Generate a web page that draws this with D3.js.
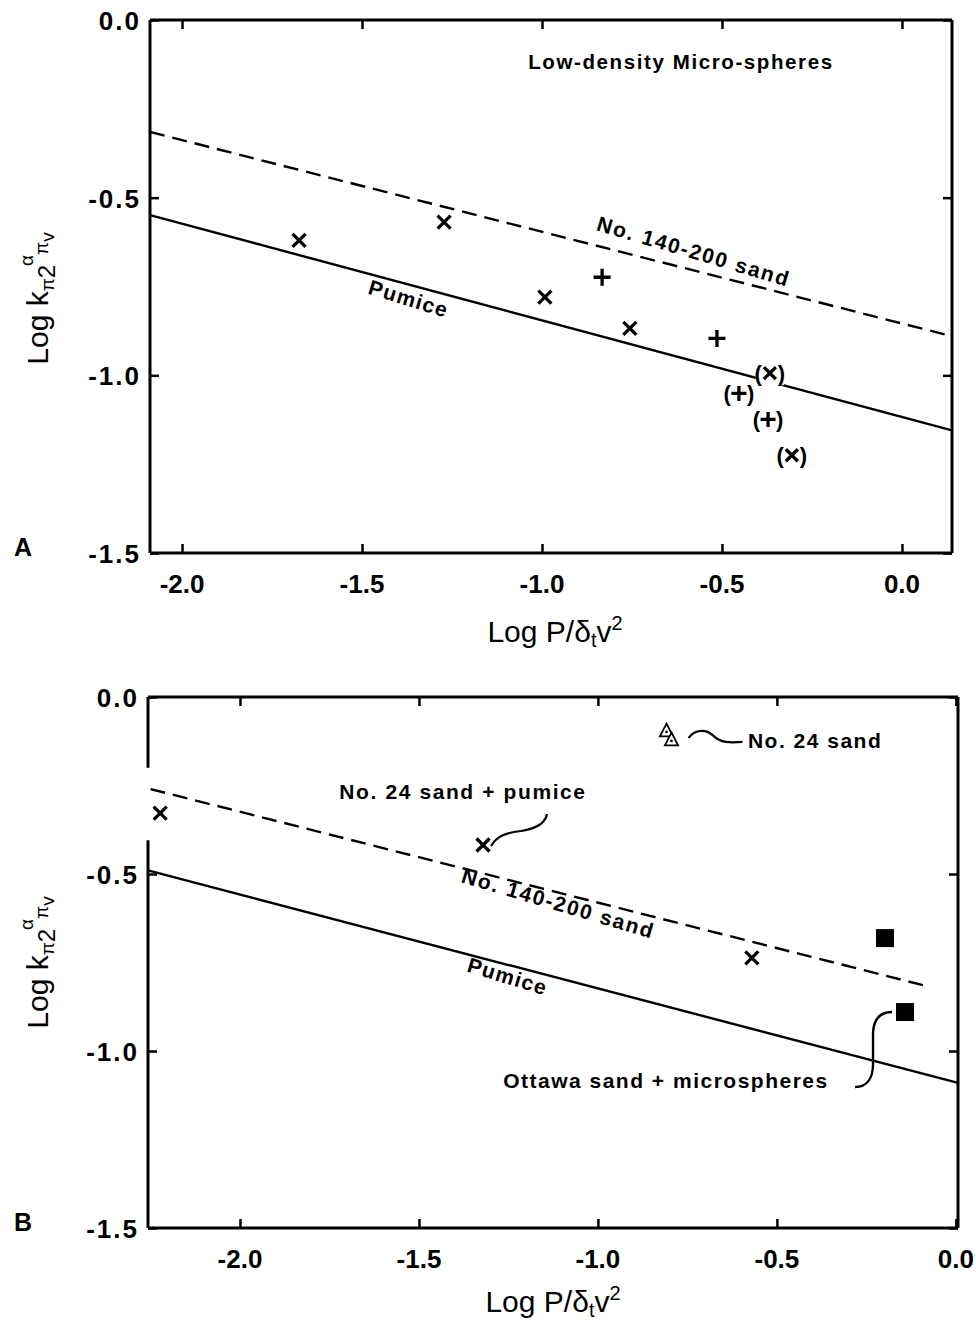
<!DOCTYPE html>
<html><head><meta charset="utf-8">
<script src="https://cdn.jsdelivr.net/npm/d3@7"></script>
<style>
body{margin:0;background:#fff;}
svg{display:block;font-family:"Liberation Sans",Arial,Helvetica,sans-serif;}
</style></head>
<body><svg id="c" width="976" height="1326"></svg>
<script>
// ---------- DATA ----------
const xTicksA = [-2.0, -1.5, -1.0, -0.5, 0.0];
const xTicksB = [-2.0, -1.5, -1.0, -0.5, 0.0];
const yTicks = [0.0, -0.5, -1.0, -1.5];
const xTickLabels = ["-2.0", "-1.5", "-1.0", "-0.5", "0.0"];
const yTickLabels = ["0.0", "-0.5", "-1.0", "-1.5"];

// Panel A points
const crossA_x = [-1.675, -1.272, -0.992, -0.756];
const crossA_y = [-0.620, -0.569, -0.780, -0.868];
const plusA_x = [-0.833, -0.514];
const plusA_y = [-0.724, -0.896];
const parenCrossA_x = [-0.367, -0.306];
const parenCrossA_y = [-0.994, -1.225];
const parenPlusA_x = [-0.453, -0.372];
const parenPlusA_y = [-1.051, -1.124];
// Panel A lines
const dashedA_x = [-2.089, 0.139];
const dashedA_y = [-0.315, -0.890];
const solidA_x = [-2.089, 0.139];
const solidA_y = [-0.549, -1.155];

// Panel B points
const crossB_x = [-2.223, -1.321, -0.570];
const crossB_y = [-0.328, -0.418, -0.737];
const squareB_x = [-0.198, -0.142];
const squareB_y = [-0.681, -0.890];
const triangleB_x = [-0.800];
const triangleB_y = [-0.107];
// Panel B lines
const dashedB_x = [-2.25, -0.092];
const dashedB_y = [-0.260, -0.814];
const solidB_x = [-2.257, 0.006];
const solidB_y = [-0.490, -1.090];
const leftAxisGapB = [-0.20, -0.405];

// ---------- DRAW ----------
const svg = d3.select("#c");

function panel(cfg){
  const x = d3.scaleLinear().domain(cfg.xd).range(cfg.xr);
  const y = d3.scaleLinear().domain([0,-1.5]).range(cfg.yr);
  const g = svg.append("g");
  const [L,R] = cfg.xr, [T,B] = cfg.yr;
  const ax = (gen, tr) => g.append("g").attr("transform", tr).call(gen)
     .call(s => { s.select(".domain").remove(); s.selectAll("text").remove();
                  s.selectAll("line").attr("stroke","#000").attr("stroke-width",2.5); });
  ax(d3.axisBottom(x).tickValues(cfg.xt).tickSizeInner(-9).tickSizeOuter(0), `translate(0,${B})`);
  ax(d3.axisTop(x).tickValues(cfg.xt).tickSizeInner(-9).tickSizeOuter(0), `translate(0,${T})`);
  ax(d3.axisLeft(y).tickValues(yTicks).tickSizeInner(-9).tickSizeOuter(0), `translate(${L},0)`);
  ax(d3.axisRight(y).tickValues(yTicks).tickSizeInner(-9).tickSizeOuter(0), `translate(${R},0)`);
  const fr = g.append("g").attr("stroke","#000").attr("stroke-width",3).attr("fill","none");
  fr.append("line").attr("x1",L).attr("x2",R).attr("y1",T).attr("y2",T);
  fr.append("line").attr("x1",L).attr("x2",R).attr("y1",B).attr("y2",B);
  fr.append("line").attr("x1",R).attr("x2",R).attr("y1",T).attr("y2",B);
  if (cfg.gap){
    fr.append("line").attr("x1",L).attr("x2",L).attr("y1",T).attr("y2",y(cfg.gap[0]));
    fr.append("line").attr("x1",L).attr("x2",L).attr("y1",y(cfg.gap[1])).attr("y2",B);
  } else {
    fr.append("line").attr("x1",L).attr("x2",L).attr("y1",T).attr("y2",B);
  }
  g.selectAll(".xl").data(cfg.xt).enter().append("text")
    .attr("x", d=>x(d)).attr("y", B+40).attr("text-anchor","middle")
    .attr("font-size",26).attr("font-weight","bold").text((d,i)=>xTickLabels[i]);
  g.selectAll(".yl").data(yTicks).enter().append("text")
    .attr("x", L-9).attr("y", d=>y(d)+10).attr("text-anchor","end")
    .attr("font-size",26).attr("font-weight","bold").attr("letter-spacing",2)
    .text((d,i)=>yTickLabels[i]);
  const xt = g.append("text").attr("x",(L+R)/2 + cfg.xtitleDx).attr("y",B+cfg.xtitleY)
    .attr("text-anchor","middle").attr("font-size",30);
  xt.append("tspan").text("Log P/δ");
  xt.append("tspan").attr("font-size",20).attr("dy",5).text("t");
  xt.append("tspan").attr("dy",-5).text("v");
  xt.append("tspan").attr("font-size",20).attr("dy",-12).text("2");
  const ymid = (T+B)/2 + cfg.ytitleDy;
  const yt = g.append("text").attr("transform",`translate(${cfg.ytitleX},${ymid}) rotate(-90)`)
    .attr("text-anchor","middle").attr("font-size",30);
  yt.append("tspan").text("Log k");
  yt.append("tspan").attr("font-size",19).attr("dy",6).text("π");
  yt.append("tspan").attr("font-size",24).attr("dy",1).text("2");
  yt.append("tspan").attr("font-size",19).attr("dy",-22).attr("dx",-1).text("α");
  yt.append("tspan").attr("font-size",19).attr("dy",15).text("π");
  yt.append("tspan").attr("font-size",19).attr("dy",6).text("v");
  g.append("text").attr("x",14).attr("y",B+3).attr("font-size",25).attr("font-weight","bold").text(cfg.letter);
  return {x,y,g};
}

function lines(p, xs, ys, dashed){
  const line = d3.line().x((d,i)=>p.x(xs[i])).y((d,i)=>p.y(ys[i]));
  p.g.append("path").attr("d", line(xs)).attr("fill","none").attr("stroke","#000")
    .attr("stroke-width",2.4).attr("stroke-dasharray", dashed ? "15,8" : null);
}
function crosses(p, xs, ys, r){
  xs.forEach((v,i)=>{
    const cx=p.x(v), cy=p.y(ys[i]);
    p.g.append("path").attr("d",`M${cx-r},${cy-r}L${cx+r},${cy+r}M${cx-r},${cy+r}L${cx+r},${cy-r}`)
      .attr("stroke","#000").attr("stroke-width",3.3).attr("fill","none");
  });
}
function pluses(p, xs, ys, r){
  xs.forEach((v,i)=>{
    const cx=p.x(v), cy=p.y(ys[i]);
    p.g.append("path").attr("d",`M${cx-r},${cy}L${cx+r},${cy}M${cx},${cy-r}L${cx},${cy+r}`)
      .attr("stroke","#000").attr("stroke-width",3.3).attr("fill","none");
  });
}
function parens(p, xs, ys){
  xs.forEach((v,i)=>{
    const cx=p.x(v), cy=p.y(ys[i]);
    p.g.append("rect").attr("x",cx-14).attr("y",cy-12).attr("width",28).attr("height",24).attr("fill","#fff");
    p.g.append("text").attr("x",cx-8).attr("y",cy+8).attr("text-anchor","end")
      .attr("font-size",22).attr("font-weight","bold").text("(");
    p.g.append("text").attr("x",cx+8).attr("y",cy+8).attr("text-anchor","start")
      .attr("font-size",22).attr("font-weight","bold").text(")");
  });
}
function label(p, xv, yv, txt, opt){
  opt = opt||{};
  p.g.append("text").attr("transform",`translate(${p.x(xv)},${p.y(yv)}) rotate(${opt.rot||0})`)
    .attr("text-anchor", opt.anchor||"middle").attr("dominant-baseline","middle")
    .attr("font-size", opt.size||20).attr("font-weight","bold")
    .attr("letter-spacing", opt.ls||1).text(txt);
}

// ---- Panel A ----
const A = panel({xd:[-2.089,0.139], xr:[150,952], yr:[20,553], xt:xTicksA, letter:"A",
                 xtitleDx:4, xtitleY:89, ytitleDy:12, ytitleX:48});
lines(A, dashedA_x, dashedA_y, true);
lines(A, solidA_x, solidA_y, false);
parens(A, parenCrossA_x, parenCrossA_y);
parens(A, parenPlusA_x, parenPlusA_y);
crosses(A, crossA_x, crossA_y, 6.5);
crosses(A, parenCrossA_x, parenCrossA_y, 6);
pluses(A, plusA_x, plusA_y, 8.5);
pluses(A, parenPlusA_x, parenPlusA_y, 7.5);
label(A, -0.614, -0.124, "Low-density Micro-spheres", {size:20.5, ls:1.6});
label(A, -0.58, -0.656, "No. 140-200 sand", {rot:16.5, size:21, ls:1.8});
label(A, -1.372, -0.789, "Pumice", {rot:17, size:21, ls:1.3});

// ---- Panel B ----
const Bp = panel({xd:[-2.257,0.006], xr:[148,958], yr:[697,1228], xt:xTicksB, letter:"B",
                  xtitleDx:0, xtitleY:84, ytitleDy:0, ytitleX:48, gap:leftAxisGapB});
lines(Bp, dashedB_x, dashedB_y, true);
lines(Bp, solidB_x, solidB_y, false);
crosses(Bp, crossB_x, crossB_y, 6.5);
squareB_x.forEach((v,i)=>{
  Bp.g.append("rect").attr("x",Bp.x(v)-9).attr("y",Bp.y(squareB_y[i])-9)
    .attr("width",18).attr("height",18).attr("fill","#000");
});
triangleB_x.forEach((v,i)=>{
  const cx=Bp.x(v), cy=Bp.y(triangleB_y[i]);
  const tri=(x0,y0,s)=>`M${x0},${y0-s*0.6}L${x0+s*0.55},${y0+s*0.45}L${x0-s*0.55},${y0+s*0.45}Z`;
  Bp.g.append("path").attr("d",tri(cx-3,cy-4,12)).attr("fill","#fff").attr("stroke","#000").attr("stroke-width",1.8);
  Bp.g.append("path").attr("d",tri(cx+2,cy+5,12)).attr("fill","#fff").attr("stroke","#000").attr("stroke-width",1.8);
  Bp.g.append("circle").attr("cx",cx-3).attr("cy",cy-3).attr("r",1.3).attr("fill","#000");
  Bp.g.append("circle").attr("cx",cx+2).attr("cy",cy+6).attr("r",1.3).attr("fill","#000");
  Bp.g.append("path").attr("d",`M${cx+19},${cy+3}C${cx+26},${cy-6} ${cx+37},${cy-6} ${cx+44},${cy+1}S${cx+60},${cy+8} ${cx+73},${cy+7}`)
    .attr("fill","none").attr("stroke","#000").attr("stroke-width",2.2);
});
{
  const cx=Bp.x(crossB_x[1]), cy=Bp.y(crossB_y[1]);
  Bp.g.append("path").attr("d",`M${cx+8},${cy+1}C${cx+14},${cy-9} ${cx+22},${cy-12} ${cx+38},${cy-14}C${cx+55},${cy-17} ${cx+62},${cy-22} ${cx+64},${cy-31}`)
    .attr("fill","none").attr("stroke","#000").attr("stroke-width",2.2);
}
{
  const cx=Bp.x(squareB_x[1]), cy=Bp.y(squareB_y[1]);
  Bp.g.append("path").attr("d",`M${cx-50},${cy+75}C${cx-38},${cy+75} ${cx-32},${cy+66} ${cx-32},${cy+52}L${cx-32},${cy+20}C${cx-31},${cy+6} ${cx-24},${cy} ${cx-13},${cy}`)
    .attr("fill","none").attr("stroke","#000").attr("stroke-width",2.4);
}
label(Bp, -0.581, -0.127, "No. 24 sand", {anchor:"start", size:21, ls:1.5});
label(Bp, -1.377, -0.273, "No. 24 sand + pumice", {size:21, ls:1.6});
label(Bp, -1.112, -0.588, "No. 140-200 sand", {rot:16.5, size:21, ls:1.8});
label(Bp, -1.254, -0.794, "Pumice", {rot:17, size:21, ls:1.3});
label(Bp, -0.81, -1.09, "Ottawa sand + microspheres", {size:21, ls:1.5});
</script></body></html>
